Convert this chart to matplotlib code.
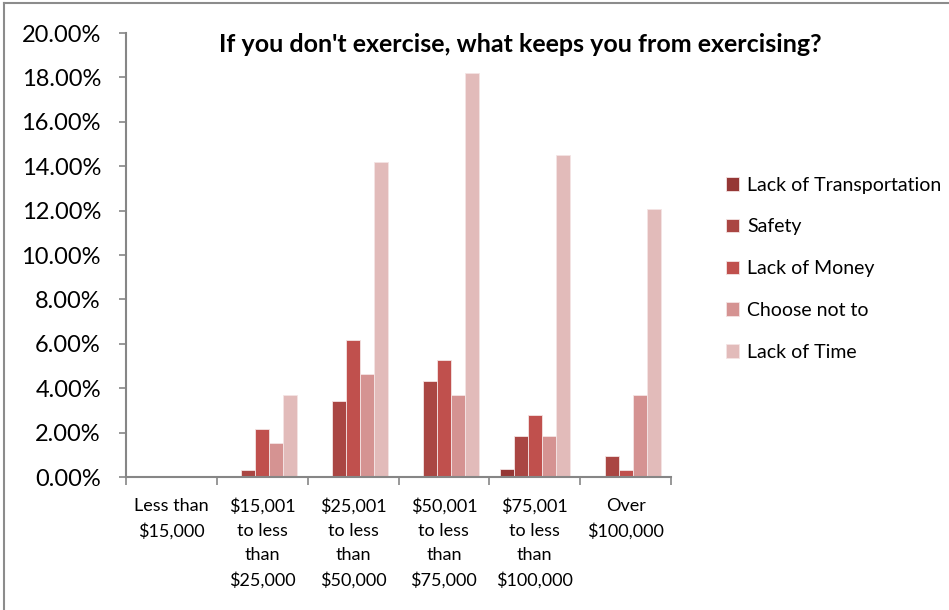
import numpy as np
import matplotlib.pyplot as plt
from matplotlib.lines import Line2D
from matplotlib.ticker import FuncFormatter, FixedLocator

plt.rcParams['font.family'] = ['Lato', 'DejaVu Sans']

# income brackets
categories = ['Less than\n$15,000', '$15,001\nto less\nthan\n$25,000',
              '$25,001\nto less\nthan\n$50,000', '$50,001\nto less\nthan\n$75,000',
              '$75,001\nto less\nthan\n$100,000', 'Over\n$100,000']

# share of respondents (%)
lack_transport = [0.0, 0.0, 0.0, 0.0, 0.36, 0.0]
safety = [0.0, 0.33, 3.41, 4.32, 1.86, 0.93]
lack_money = [0.0, 2.16, 6.17, 5.26, 2.79, 0.32]
choose_not = [0.0, 1.55, 4.64, 3.71, 1.86, 3.71]
lack_time = [0.0, 3.70, 14.20, 18.21, 14.50, 12.06]

series = ['Lack of Transportation', 'Safety', 'Lack of Money', 'Choose not to', 'Lack of Time']
values = [lack_transport, safety, lack_money, choose_not, lack_time]
colors = ['#953735', '#AA4643', '#C0504D', '#D59392', '#E2BBBA']

fig = plt.figure(figsize=(9.49, 6.10), dpi=100)
ax = fig.add_axes([126/949, 1 - 477/610, (671 - 126)/949, (477 - 33)/610])

x = np.arange(len(categories))
w = 0.154
for j, (name, vals, c) in enumerate(zip(series, values, colors)):
    ax.bar(x + (j - 2) * w, vals, width=w, color=c, label=name,
           edgecolor='#f4e4e4', linewidth=0.6)

ax.set_xlim(-0.5, len(categories) - 0.5)
ax.set_ylim(0, 20)
ax.set_yticks(np.arange(0, 21, 2))
ax.yaxis.set_major_formatter(FuncFormatter(lambda v, p: f'{v:.2f}%'))

# tick marks between groups, labels under group centers
ax.xaxis.set_major_locator(FixedLocator(np.arange(-0.5, len(categories), 1.0)))
ax.xaxis.set_minor_locator(FixedLocator(x))
ax.set_xticklabels([], minor=False)
ax.set_xticklabels(categories, minor=True, fontsize=13, linespacing=1.62, va='top')
ax.tick_params(axis='x', which='major', length=6, width=1.2, color='#868686', direction='out')
ax.tick_params(axis='x', which='minor', length=0, pad=15)
ax.tick_params(axis='y', length=5, width=1.2, color='#868686', direction='out',
               labelsize=17, pad=13)

for s in ['top', 'right']:
    ax.spines[s].set_visible(False)
for s in ['left', 'bottom']:
    ax.spines[s].set_color('#868686')
    ax.spines[s].set_linewidth(1.5)

fig.text(520/949, 1 - 44/610, "If you don't exercise, what keeps you from exercising?",
         ha='center', va='center', fontsize=18, fontweight='bold')

leg = fig.legend(loc='upper left', bbox_to_anchor=(718/949, 1 - 169/610),
                 frameon=False, fontsize=14, handlelength=0.7, handleheight=0.7,
                 handletextpad=0.4, labelspacing=1.27, borderaxespad=0)

# chart border
fig.add_artist(Line2D([4/949, 4/949], [0, 1 - 3/610], color='#8c8c8c', linewidth=1.5,
                      transform=fig.transFigure))
fig.add_artist(Line2D([4/949, 1], [1 - 3/610, 1 - 3/610], color='#8c8c8c', linewidth=1.5,
                      transform=fig.transFigure))

fig.savefig('out.png', dpi=100)
